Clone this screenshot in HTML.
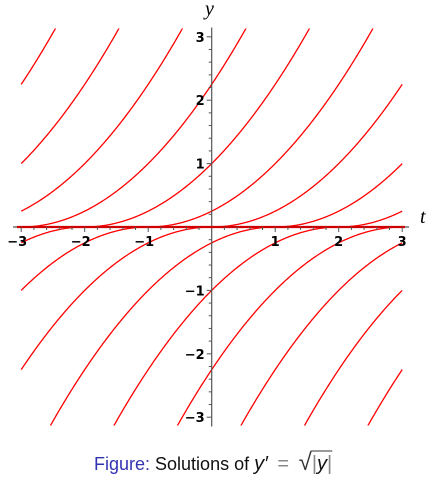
<!DOCTYPE html>
<html><head><meta charset="utf-8"><style>
html,body{margin:0;background:#fff;width:439px;height:486px;overflow:hidden}
svg{position:absolute;left:0;top:0;overflow:hidden}
</style></head><body>
<svg id="chart" width="439" height="486" xmlns="http://www.w3.org/2000/svg"></svg>
<script>
const posShifts = [-6,-5,-4,-3,-2,-1,0,1,2,3];
const negShifts = [-2,-1,0,1,2,3,4,5,6];
const xTicks = [-3,-2,-1,1,2,3];
const yTicks = [-3,-2,-1,1,2,3];
const NS='http://www.w3.org/2000/svg';
const svg=document.getElementById('chart');
const X0=211.7, Y0=227, UX=63.5, UY=63.4, YMAX=3.13, YMIN=-3.13;
const sx=t=>X0+t*UX, sy=y=>Y0-y*UY;
function mk(tag,attrs,parent){const e=document.createElementNS(NS,tag);for(const k in attrs)e.setAttribute(k,attrs[k]);(parent||svg).appendChild(e);return e;}
const defs=mk('defs',{});
const cp=mk('clipPath',{id:'clip'},defs);
mk('rect',{x:0,y:sy(YMAX),width:439,height:sy(YMIN)-sy(YMAX)},cp);
const g=mk('g',{'clip-path':'url(#clip)'});
function curve(f,name){let pts=[];for(let i=0;i<=400;i++){const t=-3+6*i/400;pts.push(sx(t).toFixed(2)+','+sy(f(t)).toFixed(2));}
 const p=mk('polyline',{points:pts.join(' '),fill:'none',stroke:'#ff0000','stroke-width':1.3},g);
 
 }
posShifts.forEach(c=>curve(t=>t>c?(t-c)*(t-c)/4:0,'positive-solution-c'+c));
negShifts.forEach(c=>curve(t=>t<c?-(t-c)*(t-c)/4:0,'negative-solution-c'+c));
const ax=mk('line',{x1:13,y1:Y0,x2:409,y2:Y0,stroke:'#555','stroke-width':1.2});

const ay=mk('line',{x1:X0,y1:sy(YMAX)-1,x2:X0,y2:sy(YMIN)+1,stroke:'#555','stroke-width':1.2});

mk('line',{x1:17,y1:Y0,x2:405,y2:Y0,stroke:'#d00000','stroke-width':2.2});
for(let i=-15;i<=15;i++){if(i===0)continue;const v=i/5,maj=i%5===0;
 mk('line',{x1:sx(v),y1:Y0,x2:sx(v),y2:Y0+(maj?5:3),stroke:'#555','stroke-width':1});
 mk('line',{x1:X0,y1:sy(v),x2:X0-(maj?5:3),y2:sy(v),stroke:'#555','stroke-width':1});}
xTicks.forEach(v=>{const t=mk('text',{x:sx(v)-(v<0?4:0),y:Y0+19,'text-anchor':'middle','font-family':'DejaVu Sans, sans-serif','font-size':13,'font-weight':'bold'});t.textContent=v<0?'\u2212'+(-v):v;
 });
yTicks.forEach(v=>{const t=mk('text',{x:X0-7,y:sy(v)+5,'text-anchor':'end','font-family':'DejaVu Sans, sans-serif','font-size':13,'font-weight':'bold'});t.textContent=v<0?'\u2212'+(-v):v;
 });
const tl=mk('text',{x:420,y:223,'font-family':'Liberation Serif, serif','font-style':'italic','font-size':20});tl.textContent='t';

const yl=mk('text',{x:205,y:15,'font-family':'Liberation Serif, serif','font-style':'italic','font-size':20});yl.textContent='y';

const cap=mk('text',{x:94,y:470,'font-family':'Liberation Sans, sans-serif','font-size':18,fill:'#111'});

const s1=mk('tspan',{fill:'#3333b3'},cap);s1.textContent='Figure:';
const s2=mk('tspan',{},cap);s2.textContent=' Solutions of ';
const s3=mk('tspan',{'font-style':'italic','font-size':20},cap);s3.textContent='y\u2032';
const s4=mk('tspan',{fill:'#888','font-size':20},cap);s4.textContent='\u2009 = \u2009';
const s5=mk('tspan',{fill:'#333','font-size':24},cap);s5.textContent='\u221A';
const s6=mk('tspan',{fill:'#888','font-size':20},cap);s6.textContent='|';
const s7=mk('tspan',{'font-style':'italic','font-size':20},cap);s7.textContent='y';
const s8=mk('tspan',{fill:'#888','font-size':20},cap);s8.textContent='|';
let ox1=330,ox2=357;
try{const n=cap.getNumberOfChars();ox1=cap.getEndPositionOfChar(n-4).x-1;ox2=cap.getEndPositionOfChar(n-1).x;}catch(e){}
mk('line',{x1:ox1,y1:451,x2:ox2,y2:451,stroke:'#333','stroke-width':1});
</script>
</body></html>
